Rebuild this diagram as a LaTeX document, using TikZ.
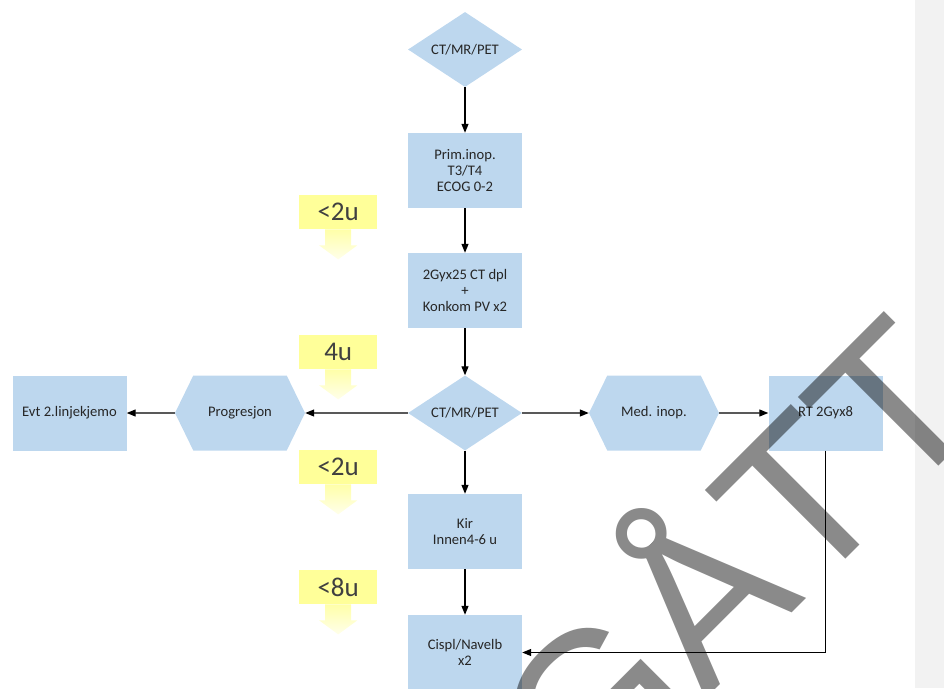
\documentclass[tikz,border=0pt]{standalone}
\usepackage{fontspec}
\setmainfont{Carlito}
\newfontfamily\wmfont{Liberation Sans}
\usetikzlibrary{
    arrows.meta,
    shapes.geometric,
    shapes.symbols
}
\definecolor{boxblue}{HTML}{BDD7EE}
\definecolor{tagyellow}{HTML}{FFFF99}
\definecolor{panelgrey}{HTML}{F2F2F2}

\begin{document}
\begin{tikzpicture}
        [
            x = 1pt, y = -1pt,
            box/.style = {draw=none, fill=boxblue, rectangle, inner sep = 0pt, minimum width = 114pt, minimum height = 75pt, align = center, text = black!85, font = \fontsize{14.6}{16}\selectfont},
            decision/.style = {draw=none, fill=boxblue, diamond, aspect = 1.5, inner sep = 0pt, minimum width = 114pt, minimum height = 75pt, text = black!85, font = \fontsize{14.6}{16}\selectfont},
            hexa/.style = {draw=none, fill=boxblue, signal, signal to = east and west, signal pointer angle = 128, inner sep = 0pt, minimum width = 130pt, minimum height = 75pt, text = black!85, font = \fontsize{14.6}{16}\selectfont},
            tag/.style = {draw=none, fill=tagyellow, rectangle, inner sep = 0pt, minimum width = 78pt, minimum height = 34pt, text = black!75, font = \fontsize{27}{27}\selectfont},
            flow/.style = {-{Triangle[length=9pt, width=7pt]}, line width = 1.2pt}
        ]
        \useasboundingbox (0, 0) rectangle (944, 688);
        \fill[panelgrey] (915, 0) rectangle (944, 688);
        \def\xmid{465}
        \def\ymid{413}
        \node[decision] (ct1) at (\xmid, 49.5) {CT/MR/PET};
        \node[box] (prim) at (\xmid, 170.5) {Prim.inop.\\T3/T4\\ECOG 0-2};
        \node[box] (gy25) at (\xmid, 290.5) {2Gyx25 CT dpl\\+\\Konkom PV x2};
        \node[decision] (ct2) at (\xmid, \ymid) {CT/MR/PET};
        \node[box] (kir) at (\xmid, 531.5) {Kir\\Innen4-6 u};
        \node[box] (cis) at (\xmid, 652.5) {Cispl/Navelb\\x2};
        \node[hexa] (prog) at (240, \ymid) {Progresjon};
        \node[box] (evt) at (69.5, \ymid) {Evt 2.linjekjemo};
        \node[hexa] (med) at (654, \ymid) {Med. inop.};
        \node[box] (rt8) at (825.5, \ymid) {RT 2Gyx8};
        % connectors
        \draw[flow] (ct1) -- (prim);
        \draw[flow] (prim) -- (gy25);
        \draw[flow] (gy25) -- (ct2);
        \draw[flow] (ct2) -- (prog);
        \draw[flow] (prog) -- (evt);
        \draw[flow] (ct2) -- (med);
        \draw[flow] (med) -- (rt8);
        \draw[flow] (ct2) -- (kir);
        \draw[flow] (kir) -- (cis);
        \draw[flow] (rt8) |- (cis);
        % time tags
        \foreach \ypos/\lbl [count=\i] in {195/{<2u}, 335/{4u}, 450/{<2u}, 570/{<8u}}
        {
            \node[tag, anchor = north west] (tag\i) at (299, \ypos) {\lbl};
            \begin{scope}[shift = {(tag\i.south)}]
                \shade[top color = tagyellow!85, bottom color = tagyellow!20] (-13, 0) -- (-13, 16) -- (-19, 16) -- (0, 30) -- (19, 16) -- (13, 16) -- (13, 0) -- cycle;
            \end{scope}
        }
        % watermark
        \node[rotate = 45, anchor = base, inner sep = 0pt, text = black, text opacity = 0.46, font = \fontsize{215}{215}\wmfont] (gatt) at (789.6, 615.4) {GÅTT};
    \end{tikzpicture}
\end{document}
